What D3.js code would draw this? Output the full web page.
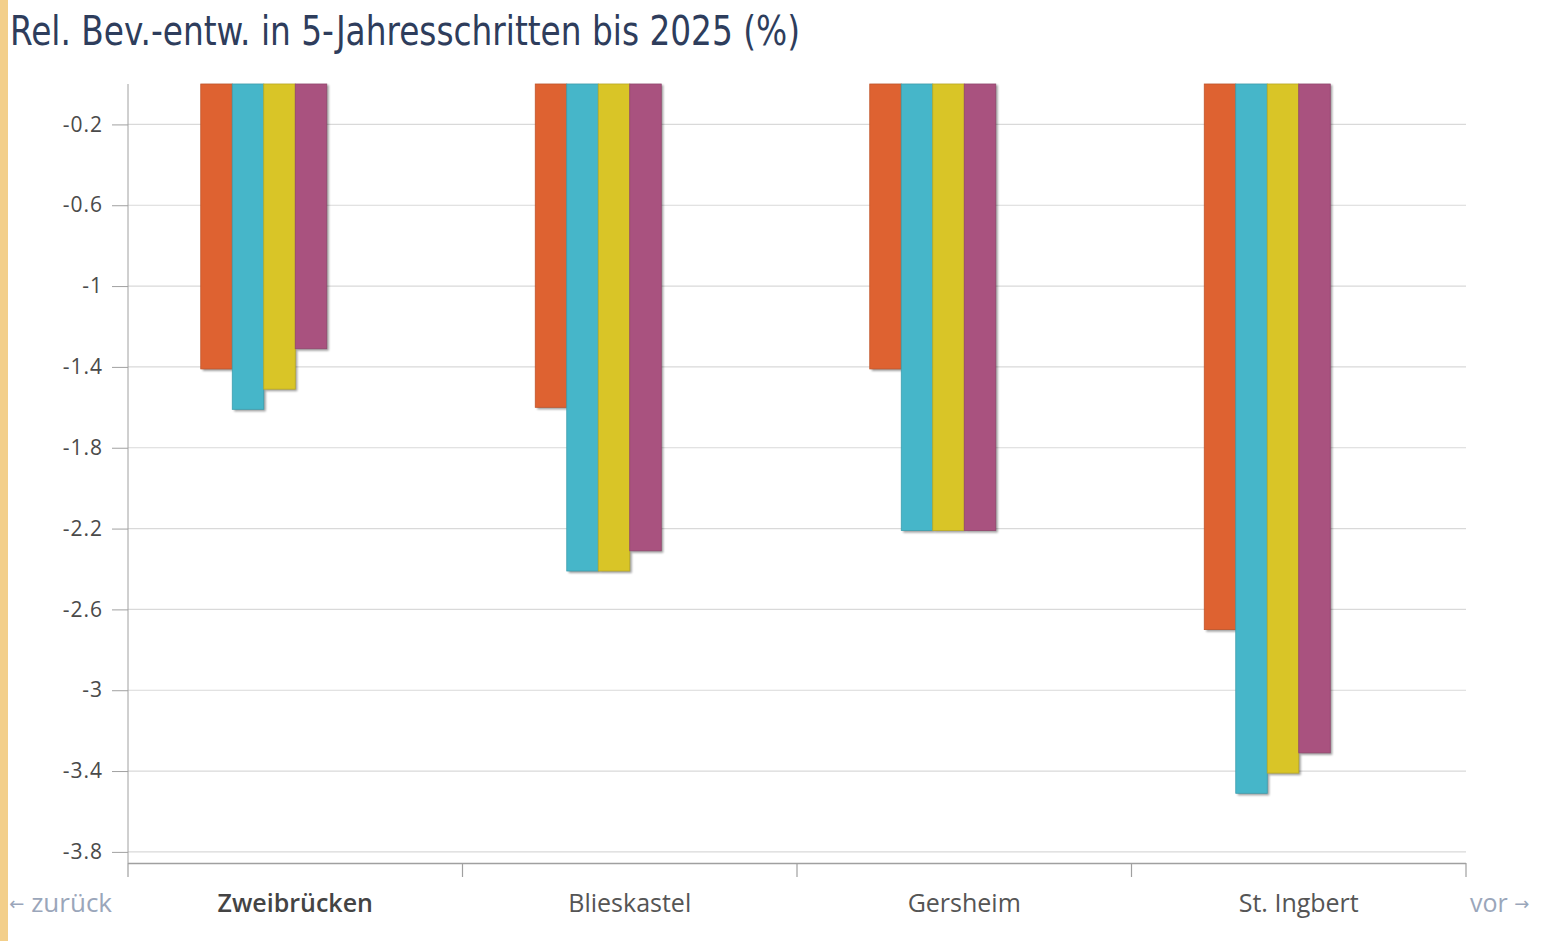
<!DOCTYPE html>
<html><head><meta charset="utf-8">
<script src="https://cdn.jsdelivr.net/npm/d3@7"></script>
<style>
html,body{margin:0;padding:0;background:#fff;overflow:hidden}
svg{display:block}
</style></head>
<body>
<svg id="c" width="1543" height="941"></svg>
<script>
const title = "Rel. Bev.-entw. in 5-Jahresschritten bis 2025 (%)";
const categories = ["Zweibrücken", "Blieskastel", "Gersheim", "St. Ingbert"];
const seriesNames = ["2005–2010", "2010–2015", "2015–2020", "2020–2025"];
const s2010 = [-1.41, -1.60, -1.41, -2.70];
const s2015 = [-1.61, -2.41, -2.21, -3.51];
const s2020 = [-1.51, -2.41, -2.21, -3.41];
const s2025 = [-1.31, -2.31, -2.21, -3.31];
const seriesColors = ["#de6231", "#46b6c9", "#d9c527", "#a9527f"];
const yTicks = [-0.2, -0.6, -1, -1.4, -1.8, -2.2, -2.6, -3, -3.4, -3.8];
const slotCount = 6;

const seriesValues = [s2010, s2015, s2020, s2025];
const svg = d3.select("#c");

// left strip
svg.append("rect").attr("x",0).attr("y",0).attr("width",8).attr("height",941).attr("fill","#f3cf8a");

// title
svg.append("text").attr("x",10).attr("y",45)
  .attr("font-family","'Liberation Sans Narrow','DejaVu Sans Condensed',sans-serif")
  .attr("font-size",40).attr("fill","#2e3d5c")
  .attr("textLength",790).attr("lengthAdjust","spacingAndGlyphs")
  .text(title);

const y = d3.scaleLinear().domain([0,-3.855]).range([84,863]);
const x = d3.scaleBand().domain(categories).range([128,1466]).padding(0);
const bw = x.bandwidth();
const inner = d3.scaleBand().domain(d3.range(slotCount)).range([bw*0.2175, bw*0.7825]).padding(0);

// grid
svg.append("g").selectAll("line").data(yTicks).join("line")
  .attr("x1",128).attr("x2",1466).attr("y1",d=>y(d)).attr("y2",d=>y(d))
  .attr("stroke","#d9d9d9").attr("stroke-width",1.2);

// y axis
const yAxis = d3.axisLeft(y).tickValues(yTicks).tickSize(16).tickPadding(9).tickFormat(d=>String(d));
const gy = svg.append("g").attr("transform","translate(128,0)").call(yAxis);
gy.select(".domain").attr("stroke","#a0a0a0").attr("d","M0,84V863");
gy.selectAll(".tick line").attr("stroke","#a0a0a0");
gy.selectAll(".tick text").attr("font-family","'Open Sans',sans-serif").attr("font-size",21)
  .attr("letter-spacing",1).attr("fill","#4a4a4a");

// shadow filter
const defs = svg.append("defs");
const f = defs.append("filter").attr("id","sh").attr("x","-20%").attr("y","-5%").attr("width","140%").attr("height","110%");
f.append("feGaussianBlur").attr("stdDeviation",1.3);

// bars
const bars = [];
seriesValues.forEach((vals,si)=>{
  vals.forEach((v,ci)=>bars.push({si, cat:categories[ci], v}));
});
const gb = svg.append("g");
gb.selectAll("rect.sh").data(bars).join("rect").attr("class","sh")
  .attr("x",d=>x(d.cat)+inner(d.si)+2).attr("y",y(0)+1)
  .attr("width",inner.bandwidth()).attr("height",d=>y(d.v)-y(0)+1)
  .attr("fill","#000").attr("opacity",0.38).attr("filter","url(#sh)");
gb.selectAll("rect.bar").data(bars).join("rect").attr("class","bar")
  .attr("x",d=>x(d.cat)+inner(d.si)).attr("y",y(0))
  .attr("width",inner.bandwidth()).attr("height",d=>y(d.v)-y(0))
  .attr("fill",d=>seriesColors[d.si])
  .attr("stroke",d=>d3.color(seriesColors[d.si]).darker(0.4)).attr("stroke-width",0.8);

// x axis
svg.append("line").attr("x1",128).attr("x2",1466).attr("y1",863.5).attr("y2",863.5).attr("stroke","#a0a0a0").attr("stroke-width",1.5);
const edges = categories.map(c=>x(c)).concat([x.range()[1]]);
svg.append("g").selectAll("line").data(edges).join("line")
  .attr("x1",d=>d).attr("x2",d=>d).attr("y1",863).attr("y2",877)
  .attr("stroke","#a0a0a0").attr("stroke-width",1.2);
svg.append("g").selectAll("text").data(categories).join("text")
  .attr("x",d=>x(d)+bw/2).attr("y",912).attr("text-anchor","middle")
  .attr("font-family","'Open Sans',sans-serif").attr("font-size",25)
  .attr("font-weight",(d,i)=>i===0?600:400)
  .attr("fill",(d,i)=>i===0?"#444":"#555").text(d=>d);

// navigation
const back = svg.append("text").attr("x",112).attr("y",912).attr("text-anchor","end")
  .attr("font-family","'Open Sans',sans-serif").attr("font-size",26).attr("fill","#9aa6ba");
back.append("tspan").attr("font-family","'DejaVu Sans',sans-serif").attr("font-size",18).attr("dy",-2).text("←");
back.append("tspan").attr("dy",2).text(" zurück");
const fwd = svg.append("text").attr("x",1470).attr("y",912).attr("text-anchor","start")
  .attr("font-family","'Open Sans',sans-serif").attr("font-size",25).attr("fill","#9aa6ba");
fwd.append("tspan").text("vor ");
fwd.append("tspan").attr("font-family","'DejaVu Sans',sans-serif").attr("font-size",18).attr("dy",-2).text("→");
</script>
</body></html>
